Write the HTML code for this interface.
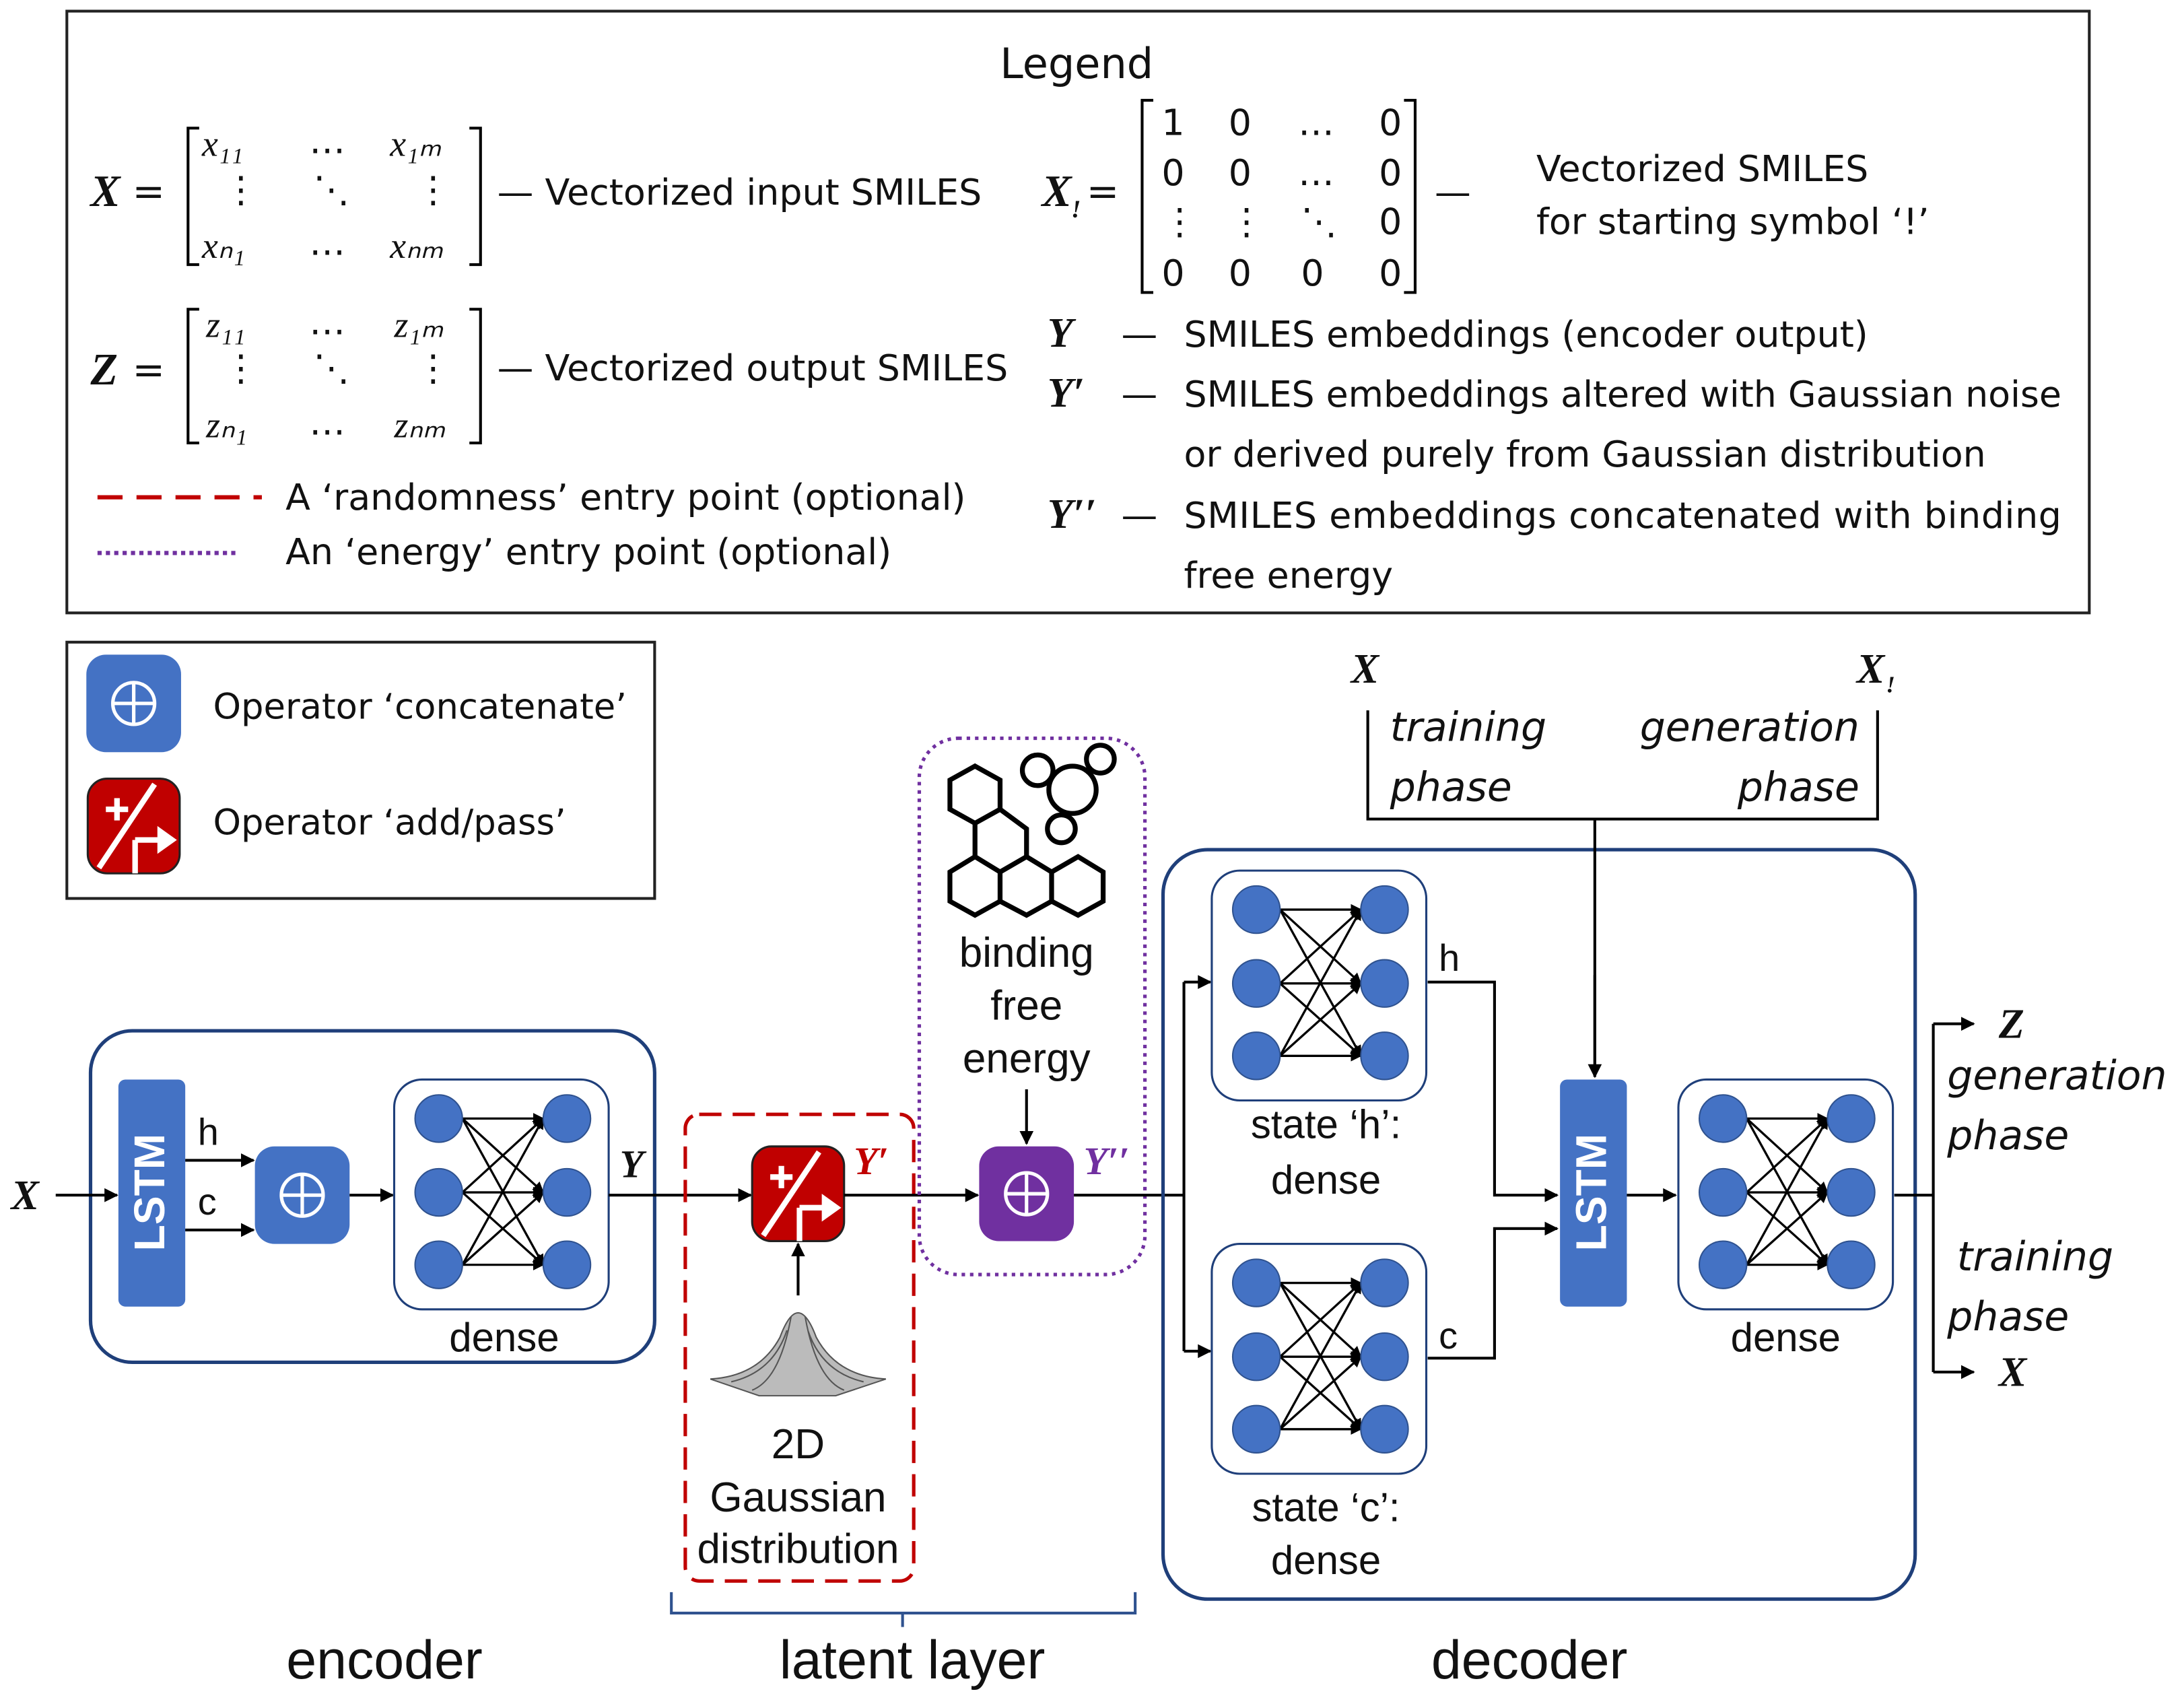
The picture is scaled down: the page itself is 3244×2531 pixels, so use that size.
<!DOCTYPE html>
<html><head><meta charset="utf-8"><style>
html,body{margin:0;padding:0;background:#fff}
svg{display:block}
text{font-family:"DejaVu Sans","Liberation Sans",sans-serif;fill:#111}
.a{font-family:"Liberation Sans",sans-serif}
.m{font-family:"Liberation Serif",serif;font-style:italic}
.b{font-family:"Liberation Serif",serif;font-style:italic;font-weight:bold}
</style></head><body>
<svg width="3244" height="2531" viewBox="0 0 1568 1223.3" preserveAspectRatio="none" xmlns="http://www.w3.org/2000/svg">
<defs>
<marker id="a" viewBox="0 0 10 10" refX="9" refY="5" markerWidth="5" markerHeight="5" orient="auto"><path d="M0,0L10,5L0,10z" fill="#000"/></marker>
<g id="dense">
<rect x="0" y="0" width="154" height="165" rx="20" fill="#fff" stroke="#1f3f7a" stroke-width="1.5"/>
<g stroke="#000" stroke-width="1.6" marker-end="url(#a)">
<line x1="49" y1="28" x2="107" y2="28"/><line x1="49" y1="28" x2="107" y2="81"/><line x1="49" y1="28" x2="107" y2="133"/>
<line x1="49" y1="81" x2="107" y2="28"/><line x1="49" y1="81" x2="107" y2="81"/><line x1="49" y1="81" x2="107" y2="133"/>
<line x1="49" y1="133" x2="107" y2="28"/><line x1="49" y1="133" x2="107" y2="81"/><line x1="49" y1="133" x2="107" y2="133"/>
</g>
<g fill="#4472c4" stroke="#2f528f" stroke-width="1"><circle cx="32" cy="28" r="17"/><circle cx="32" cy="81" r="17"/><circle cx="32" cy="133" r="17"/><circle cx="124" cy="28" r="17"/><circle cx="124" cy="81" r="17"/><circle cx="124" cy="133" r="17"/></g>
</g>
<g id="cat"><rect x="0" y="0" width="68" height="70" rx="14" fill="#4472c4"/><circle cx="34" cy="35" r="15" fill="none" stroke="#fff" stroke-width="2.5"/><line x1="19" y1="35" x2="49" y2="35" stroke="#fff" stroke-width="2.5"/><line x1="34" y1="20" x2="34" y2="50" stroke="#fff" stroke-width="2.5"/></g>
<g id="add"><rect x="0" y="0" width="66" height="68" rx="14" fill="#c00000" stroke="#222" stroke-width="1.5"/><line x1="8" y1="64" x2="48" y2="4" stroke="#fff" stroke-width="4"/><path d="M13,22h16M21,14v16" stroke="#fff" stroke-width="4"/><line x1="34" y1="68" x2="34" y2="44" stroke="#fff" stroke-width="4"/><line x1="34" y1="44" x2="52" y2="44" stroke="#fff" stroke-width="4"/><path d="M50,34L64,44L50,54z" fill="#fff"/></g>
<g id="lstm"><rect x="0" y="0" width="48" height="163" rx="5" fill="#4472c4"/><text class="a" transform="translate(33,81) rotate(-90)" text-anchor="middle" font-size="31" font-weight="bold" style="fill:#fff">LSTM</text></g>
</defs>

<!-- Legend -->
<rect x="48" y="8" width="1452" height="432" fill="none" stroke="#222" stroke-width="2"/>
<text x="773" y="56" text-anchor="middle" font-size="30">Legend</text>
<g font-size="26">
<text class="b" x="65" y="148" font-size="32">X</text><text x="95" y="147" font-size="28">=</text>
<path d="M143,92h-8v98h8M337,92h8v98h-8" fill="none" stroke="#000" stroke-width="2"/>
<text class="m" x="145" y="112" font-size="26">x₁₁</text><text x="222" y="110">…</text><text class="m" x="280" y="112" font-size="26">x₁ₘ</text>
<text x="160" y="145">⋮</text><text x="225" y="145">⋱</text><text x="298" y="145">⋮</text>
<text class="m" x="145" y="185" font-size="26">xₙ₁</text><text x="222" y="183">…</text><text class="m" x="280" y="185" font-size="26">xₙₘ</text>
<text x="357" y="147">— Vectorized input SMILES</text>

<text class="b" x="65" y="276" font-size="32">Z</text><text x="95" y="275" font-size="28">=</text>
<path d="M143,222h-8v96h8M337,222h8v96h-8" fill="none" stroke="#000" stroke-width="2"/>
<text class="m" x="148" y="242" font-size="26">z₁₁</text><text x="222" y="240">…</text><text class="m" x="283" y="242" font-size="26">z₁ₘ</text>
<text x="160" y="273">⋮</text><text x="225" y="273">⋱</text><text x="298" y="273">⋮</text>
<text class="m" x="148" y="314" font-size="26">zₙ₁</text><text x="222" y="312">…</text><text class="m" x="283" y="314" font-size="26">zₙₘ</text>
<text x="357" y="273">— Vectorized output SMILES</text>

<line x1="70" y1="357" x2="188" y2="357" stroke="#c00000" stroke-width="3" stroke-dasharray="18,10"/>
<text x="205" y="366">A ‘randomness’ entry point (optional)</text>
<line x1="70" y1="397" x2="172" y2="397" stroke="#7030a0" stroke-width="3" stroke-dasharray="3,3"/>
<text x="205" y="405">An ‘energy’ entry point (optional)</text>

<text class="b" x="748" y="148" font-size="32">X</text><text class="b" x="769" y="156" font-size="18">!</text><text x="780" y="147" font-size="28">=</text>
<path d="M828,72h-8v138h8M1008,72h8v138h-8" fill="none" stroke="#000" stroke-width="2"/>
<text x="834" y="97" font-family="Liberation Serif">1</text><text x="882" y="97" font-family="Liberation Serif">0</text><text x="932" y="97">…</text><text x="990" y="97" font-family="Liberation Serif">0</text>
<text x="834" y="133" font-family="Liberation Serif">0</text><text x="882" y="133" font-family="Liberation Serif">0</text><text x="932" y="133">…</text><text x="990" y="133" font-family="Liberation Serif">0</text>
<text x="834" y="168">⋮</text><text x="882" y="168">⋮</text><text x="934" y="168">⋱</text><text x="990" y="168" font-family="Liberation Serif">0</text>
<text x="834" y="205" font-family="Liberation Serif">0</text><text x="882" y="205" font-family="Liberation Serif">0</text><text x="934" y="205" font-family="Liberation Serif">0</text><text x="990" y="205" font-family="Liberation Serif">0</text>
<text x="1030" y="147">—</text>
<text x="1103" y="130">Vectorized SMILES</text>
<text x="1103" y="168">for starting symbol ‘!’</text>

<text class="b" x="752" y="249" font-size="30">Y</text><text x="805" y="249">—</text><text x="850" y="249">SMILES embeddings (encoder output)</text>
<text class="b" x="752" y="292" font-size="30">Y′</text><text x="805" y="292">—</text><text x="850" y="292" textLength="630">SMILES embeddings altered with Gaussian noise</text>
<text x="850" y="335">or derived purely from Gaussian distribution</text>
<text class="b" x="752" y="379" font-size="30">Y′′</text><text x="805" y="379">—</text><text x="850" y="379" textLength="630">SMILES embeddings concatenated with binding</text>
<text x="850" y="422">free energy</text>
</g>

<!-- operator legend -->
<rect x="48" y="461" width="422" height="184" fill="none" stroke="#222" stroke-width="2"/>
<use href="#cat" x="62" y="470"/>
<use href="#add" x="63" y="559"/>
<text x="153" y="516" font-size="25.5">Operator ‘concatenate’</text>
<text x="153" y="599" font-size="25.5">Operator ‘add/pass’</text>

<!-- encoder -->
<rect x="65" y="740" width="405" height="238" rx="30" fill="none" stroke="#1f3f7a" stroke-width="2.5"/>
<text class="b" x="8" y="868" font-size="30">X</text>
<line x1="40" y1="858" x2="84" y2="858" stroke="#000" stroke-width="2" marker-end="url(#a)"/>
<use href="#lstm" x="85" y="775"/>
<line x1="133" y1="833" x2="182" y2="833" stroke="#000" stroke-width="2" marker-end="url(#a)"/>
<line x1="133" y1="883" x2="182" y2="883" stroke="#000" stroke-width="2" marker-end="url(#a)"/>
<text class="a" x="142" y="822" font-size="27">h</text><text class="a" x="142" y="872" font-size="27">c</text>
<use href="#cat" x="183" y="823"/>
<line x1="251" y1="858" x2="282" y2="858" stroke="#000" stroke-width="2" marker-end="url(#a)"/>
<use href="#dense" x="283" y="775"/>
<text class="a" x="362" y="970" text-anchor="middle" font-size="29">dense</text>
<text class="b" x="445" y="845" font-size="28">Y</text>
<line x1="437" y1="858" x2="539" y2="858" stroke="#000" stroke-width="2" marker-end="url(#a)"/>

<!-- latent -->
<rect x="492" y="800" width="164" height="335" rx="10" fill="none" stroke="#c00000" stroke-width="2.5" stroke-dasharray="16,8"/>
<use href="#add" x="540" y="823"/>
<text class="b" x="613" y="843" font-size="28" style="fill:#c00000">Y′</text>
<line x1="606" y1="858" x2="702" y2="858" stroke="#000" stroke-width="2" marker-end="url(#a)"/>
<line x1="573" y1="930" x2="573" y2="893" stroke="#000" stroke-width="2" marker-end="url(#a)"/>
<g fill="none" stroke="#555" stroke-width="1">
<path d="M510,990 Q545,988 560,960 Q573,925 586,960 Q601,988 636,990 L600,1002 L545,1002 Z" fill="#bbb"/>
<path d="M525,992 Q555,985 565,955 M580,955 Q590,985 620,992 M540,998 Q560,990 568,945 M578,945 Q586,990 606,998"/>
</g>
<text class="a" x="573" y="1047" text-anchor="middle" font-size="30">2D</text>
<text class="a" x="573" y="1085" text-anchor="middle" font-size="30">Gaussian</text>
<text class="a" x="573" y="1122" text-anchor="middle" font-size="30">distribution</text>

<rect x="660" y="530" width="162" height="385" rx="28" fill="none" stroke="#7030a0" stroke-width="2.5" stroke-dasharray="2.5,3.5"/>
<g fill="none" stroke="#000" stroke-width="3.5">
<path d="M700,550 L718,560 L718,581 L700,591 L682,581 L682,560 Z"/>
<path d="M700,591 L700,615 M700,615 L718,626 L718,647 L700,657 L682,647 L682,626 Z"/>
<path d="M718,626 L737,615 L755,626 L755,647 L737,657 L718,647"/>
<path d="M737,615 L737,595 L718,581 M755,626 L774,615 L792,626 L792,647 L774,657 L755,647"/>
<circle cx="745" cy="553" r="11"/><circle cx="770" cy="567" r="17"/><circle cx="790" cy="545" r="10"/><circle cx="762" cy="595" r="10"/>
</g>
<text class="a" x="737" y="694" text-anchor="middle" font-size="30">binding</text>
<text class="a" x="737" y="732" text-anchor="middle" font-size="30">free</text>
<text class="a" x="737" y="770" text-anchor="middle" font-size="30">energy</text>
<line x1="737" y1="782" x2="737" y2="821" stroke="#000" stroke-width="2" marker-end="url(#a)"/>
<g><rect x="703" y="823" width="68" height="68" rx="14" fill="#7030a0"/><circle cx="737" cy="857" r="15" fill="none" stroke="#fff" stroke-width="2.5"/><line x1="722" y1="857" x2="752" y2="857" stroke="#fff" stroke-width="2.5"/><line x1="737" y1="842" x2="737" y2="872" stroke="#fff" stroke-width="2.5"/></g>
<text class="b" x="778" y="843" font-size="28" style="fill:#7030a0">Y′′</text>
<path d="M771,858H850M850,705V970" fill="none" stroke="#000" stroke-width="2"/>
<line x1="850" y1="705" x2="869" y2="705" stroke="#000" stroke-width="2" marker-end="url(#a)"/>
<line x1="850" y1="970" x2="869" y2="970" stroke="#000" stroke-width="2" marker-end="url(#a)"/>

<path d="M482,1143V1158H815V1143M648,1158V1168" fill="none" stroke="#2f528f" stroke-width="2"/>

<!-- decoder -->
<rect x="835" y="610" width="540" height="538" rx="32" fill="none" stroke="#1f3f7a" stroke-width="2.5"/>
<use href="#dense" x="870" y="625"/>
<text class="a" x="952" y="817" text-anchor="middle" font-size="29">state ‘h’:</text>
<text class="a" x="952" y="857" text-anchor="middle" font-size="29">dense</text>
<use href="#dense" x="870" y="893"/>
<text class="a" x="952" y="1092" text-anchor="middle" font-size="29">state ‘c’:</text>
<text class="a" x="952" y="1130" text-anchor="middle" font-size="29">dense</text>
<path d="M1025,705H1073V858H1118" fill="none" stroke="#000" stroke-width="2" marker-end="url(#a)"/>
<path d="M1025,975H1073V882H1118" fill="none" stroke="#000" stroke-width="2" marker-end="url(#a)"/>
<text class="a" x="1033" y="697" font-size="27">h</text><text class="a" x="1033" y="968" font-size="27">c</text>
<use href="#lstm" x="1120" y="775"/>
<line x1="1168" y1="858" x2="1203" y2="858" stroke="#000" stroke-width="2" marker-end="url(#a)"/>
<use href="#dense" x="1205" y="775"/>
<text class="a" x="1282" y="970" text-anchor="middle" font-size="29">dense</text>

<text class="b" x="970" y="490" font-size="30">X</text>
<text class="b" x="1333" y="490" font-size="30">X</text><text class="b" x="1354" y="497" font-size="17">!</text>
<path d="M982,510V588H1348V510M1145,588V773" fill="none" stroke="#000" stroke-width="2"/>
<line x1="1145" y1="700" x2="1145" y2="773" stroke="#000" stroke-width="2" marker-end="url(#a)"/>
<g font-style="italic" font-size="29">
<text x="998" y="532">training</text><text x="998" y="575">phase</text>
<text x="1335" y="532" text-anchor="end">generation</text><text x="1335" y="575" text-anchor="end">phase</text>
</g>
<path d="M1360,858H1388M1388,735V985" fill="none" stroke="#000" stroke-width="2"/>
<line x1="1388" y1="735" x2="1417" y2="735" stroke="#000" stroke-width="2" marker-end="url(#a)"/>
<line x1="1388" y1="985" x2="1417" y2="985" stroke="#000" stroke-width="2" marker-end="url(#a)"/>
<text class="b" x="1435" y="745" font-size="30">Z</text>
<text class="b" x="1435" y="995" font-size="30">X</text>
<g font-style="italic" font-size="29">
<text x="1398" y="782">generation</text><text x="1398" y="825">phase</text>
<text x="1405" y="912">training</text><text x="1398" y="955">phase</text>
</g>

<text class="a" x="276" y="1205" text-anchor="middle" font-size="39">encoder</text>
<text class="a" x="655" y="1205" text-anchor="middle" font-size="39">latent layer</text>
<text class="a" x="1098" y="1205" text-anchor="middle" font-size="39">decoder</text>
</svg>
</body></html>
